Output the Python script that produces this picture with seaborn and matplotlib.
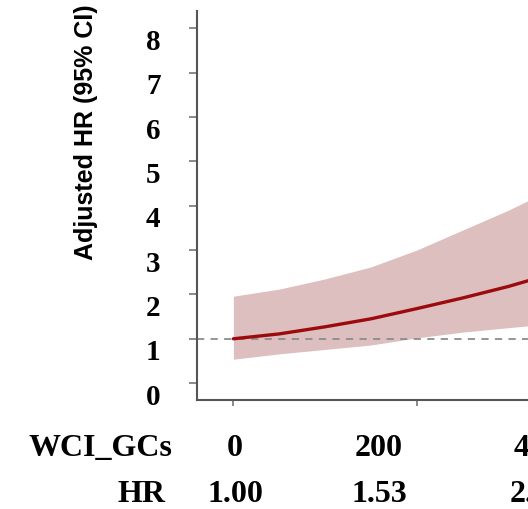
import numpy as np
import pandas as pd
import matplotlib
matplotlib.use('Agg')
import matplotlib.pyplot as plt
import matplotlib.transforms as mtrans
import seaborn as sb

# curva HR ajustada y su IC 95%
wci = [0, 50, 100, 150, 200, 250, 300, 340]
hr = [1.00, 1.11, 1.27, 1.45, 1.68, 1.92, 2.18, 2.42]
hr_low = [0.54, 0.66, 0.76, 0.86, 1.02, 1.15, 1.25, 1.33]
hr_up = [1.96, 2.12, 2.35, 2.62, 3.00, 3.45, 3.90, 4.30]

# tabla bajo el eje
tab_wci = ['0', '200', '400']
tab_hr = ['1.00', '1.53', '2.41']
tab_x = [235, 379, 538]
y_ticks = [0, 1, 2, 3, 4, 5, 6, 7, 8]

datos = pd.DataFrame({'wci': wci, 'hr': hr, 'low': hr_low, 'up': hr_up})

sb.set_style('ticks')
fig = plt.figure(figsize=(5.28, 5.10), dpi=100)
ax = fig.add_axes([196.7/528, 109/510, 1.285, 389/510])

ax.fill_between(datos['wci'], datos['low'], datos['up'], color='#DDBFBF', lw=0)
sb.lineplot(data=datos, x='wci', y='hr', color='#9C0A0E', linewidth=2.4, ax=ax)
ax.axhline(1, color='#8C8C8C', ls=(0, (4, 3.5)), lw=1.3, zorder=1)

ax.set_xlim(-40, 700)
ax.set_ylim(-0.38, 8.39)
ax.set_yticks(y_ticks)
ax.set_xticks([0, 200, 400])
ax.set_xticklabels([])
ax.set_xlabel('')
ax.set_ylabel('Adjusted HR (95% CI)', fontfamily='Liberation Sans', fontweight='bold',
              fontsize=18, color='black')
# la etiqueta va mas arriba que el centro del eje
ax.yaxis.set_label_coords(-0.146, 0.69)

sb.despine(ax=ax)
for s in ['left', 'bottom']:
    ax.spines[s].set_color('#555555')
    ax.spines[s].set_linewidth(1.5)
ax.tick_params(axis='y', length=6, width=1.2, color='#777777', pad=20)
ax.tick_params(axis='x', length=4, width=1.2, color='#777777')

# las etiquetas del eje y salen un poco mas abajo
desp = mtrans.ScaledTranslation(0, -10/100, fig.dpi_scale_trans)
for lab in ax.get_yticklabels():
    lab.set_fontfamily('Liberation Serif')
    lab.set_fontweight('bold')
    lab.set_fontsize(21)
    lab.set_color('black')
    lab.set_transform(lab.get_transform() + desp)

fuente = dict(fontfamily='Liberation Serif', fontweight='bold', fontsize=23, color='black')
fig.text(172/528, 54/510, 'WCI_GCs', ha='right', va='baseline', **fuente)
fig.text(165/528, 8/510, 'HR', ha='right', va='baseline', **fuente)
for i in range(len(tab_x)):
    fig.text(tab_x[i]/528, 54/510, tab_wci[i], ha='center', va='baseline', **fuente)
    fig.text(tab_x[i]/528, 8/510, tab_hr[i], ha='center', va='baseline', **fuente)

plt.savefig('out.png', dpi=100)
